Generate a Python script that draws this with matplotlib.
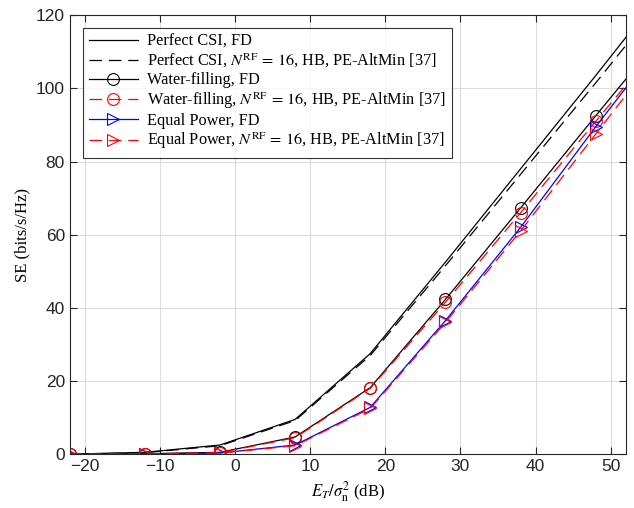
import matplotlib
matplotlib.use("Agg")
import matplotlib.pyplot as plt

# SNR points (last one lies past the axis edge, lines get clipped there)
snr_db = [-22, -12, -2, 8, 18, 28, 38, 48, 58]

perfect_fd = [0.0, 0.5, 2.5, 9.5, 27.5, 52.5, 78.0, 103.5, 129.5]
perfect_hb = [0.0, 0.4, 2.3, 9.2, 27.0, 51.5, 76.5, 101.5, 127.0]
wf_fd = [0.0, 0.1, 0.5, 4.7, 18.2, 42.3, 67.3, 92.5, 117.5]
wf_hb = [0.0, 0.1, 0.4, 4.5, 18.0, 41.5, 66.0, 91.0, 115.5]
ep_fd = [0.0, 0.05, 0.3, 2.5, 12.8, 36.5, 62.0, 89.5, 116.0]
ep_hb = [0.0, 0.05, 0.3, 2.3, 12.5, 36.0, 61.0, 87.5, 114.0]

plt.rcParams["mathtext.fontset"] = "stix"
serif = ["Liberation Serif", "DejaVu Serif"]
tick_font = ["Liberation Sans", "DejaVu Sans"]

fig = plt.figure(figsize=(6.34, 5.08), dpi=100)
ax = fig.add_axes([0.110, 0.106, 0.877, 0.864])

lw = 0.9
dash = (0, (10, 5.5))
hb = r"$N^{\mathrm{RF}}\,=\,16$, HB, PE-AltMin [37]"
ax.plot(snr_db, perfect_fd, color="black", lw=lw, label="Perfect CSI, FD")
ax.plot(snr_db, perfect_hb, color="black", lw=lw, linestyle=dash,
        label="Perfect CSI, " + hb)
ax.plot(snr_db, wf_fd, color="black", lw=lw, marker="o", ms=8.5, mfc="none",
        mew=0.8, label="Water-filling, FD")
ax.plot(snr_db, wf_hb, color="red", lw=lw, linestyle=dash, marker="o", ms=8.5,
        mfc="none", mew=0.8, label="Water-filling, " + hb)
ax.plot(snr_db, ep_fd, color="blue", lw=lw, marker=">", ms=8.5, mfc="none",
        mew=0.8, label="Equal Power, FD")
ax.plot(snr_db, ep_hb, color="red", lw=lw, linestyle=dash, marker=">", ms=8.5,
        mfc="none", mew=0.8, label="Equal Power, " + hb)

ax.set_xlim(-22, 52)
ax.set_ylim(0, 120)
ax.set_xticks([-20, -10, 0, 10, 20, 30, 40, 50])
ax.set_yticks([0, 20, 40, 60, 80, 100, 120])
ax.grid(True, color="#dcdcdc", lw=0.8)
ax.set_axisbelow(True)
ax.tick_params(direction="in", length=5, colors="#262626", labelsize=12.5,
               top=True, right=True, labeltop=False, labelright=False)
for lab in ax.get_xticklabels() + ax.get_yticklabels():
    lab.set_family(tick_font)
for sp in ax.spines.values():
    sp.set_color("#262626")
    sp.set_linewidth(0.8)

ax.set_xlabel(r"$E_T/\sigma_{\mathrm{n}}^2$ (dB)", family=serif, fontsize=12)
ax.set_ylabel("SE (bits/s/Hz)", family=serif, fontsize=12)

leg = ax.legend(loc="upper left", bbox_to_anchor=(0.023, 0.972),
                prop={"family": serif, "size": 11.7}, frameon=True,
                fancybox=False, edgecolor="black", handlelength=3.0,
                borderpad=0.4, labelspacing=0.12, handletextpad=0.55,
                borderaxespad=0)
leg.get_frame().set_linewidth(0.8)

fig.savefig("out.png", dpi=100)
